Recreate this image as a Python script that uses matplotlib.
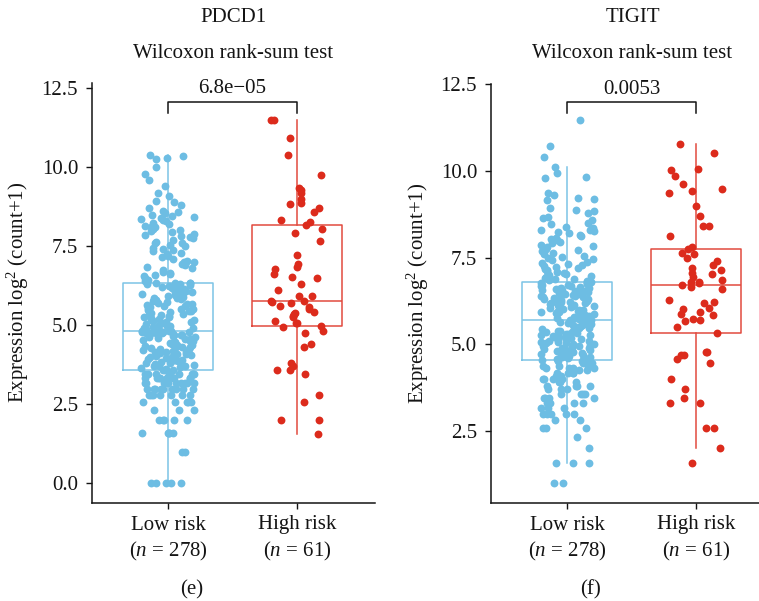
import matplotlib
matplotlib.use("Agg")
import matplotlib.pyplot as plt
import numpy as np

plt.rcParams['font.family'] = ['Liberation Serif', 'DejaVu Serif']
plt.rcParams['mathtext.fontset'] = 'custom'
plt.rcParams['mathtext.rm'] = 'Liberation Serif'
plt.rcParams['mathtext.it'] = 'Liberation Serif:italic'

# ---- data -------------------------------------------------------------
groups = ["Low risk", "High risk"]
group_sizes = [278, 61]
genes = ["PDCD1", "TIGIT"]
test_name = "Wilcoxon rank-sum test"
p_labels = ["6.8e\u221205", "0.0053"]
panel_tags = ["(e)", "(f)"]

# log2(count+1) expression, low-risk group
pdcd1_low = [
    0.00, 0.00, 0.00, 0.00, 0.00, 1.00, 1.00, 1.58, 1.58, 1.58, 1.58, 1.58,
    2.00, 2.00, 2.00, 2.00, 2.00, 2.32, 2.32, 2.32, 2.58, 2.58, 2.58, 2.58, 2.58,
    2.81, 2.81, 2.81, 2.81, 2.81, 2.81, 2.81,
    3.00, 3.00, 3.00, 3.00, 3.00, 3.00, 3.00, 3.00, 3.00,
    3.17, 3.17, 3.17, 3.17, 3.17, 3.17, 3.17, 3.17, 3.17,
    3.32, 3.32, 3.32, 3.32, 3.32, 3.32, 3.32, 3.32, 3.32, 3.32,
    3.46, 3.46, 3.46, 3.46, 3.46, 3.46, 3.46, 3.46, 3.46,
    3.58, 3.58, 3.60, 3.62, 3.65, 3.68, 3.70, 3.70, 3.72, 3.75,
    3.78, 3.81, 3.81, 3.83, 3.86, 3.89, 3.91, 3.91, 3.94, 3.97,
    4.00, 4.00, 4.02, 4.05, 4.07, 4.09, 4.09, 4.12, 4.15, 4.17,
    4.17, 4.20, 4.23, 4.25, 4.25, 4.28, 4.30, 4.32, 4.32, 4.35,
    4.38, 4.39, 4.42, 4.45, 4.46, 4.48, 4.50, 4.52, 4.55, 4.58,
    4.58, 4.60, 4.62, 4.64, 4.66, 4.68, 4.70, 4.70, 4.72, 4.74,
    4.75, 4.76, 4.77, 4.78, 4.79, 4.80, 4.80, 4.81, 4.81, 4.81,
    4.81, 4.83, 4.85, 4.88, 4.90, 4.92, 4.95, 4.97, 4.99, 5.02,
    5.04, 5.06, 5.09, 5.11, 5.13, 5.16, 5.18, 5.20, 5.23, 5.25,
    5.27, 5.30, 5.32, 5.34, 5.37, 5.39, 5.41, 5.44, 5.46, 5.48,
    5.51, 5.53, 5.55, 5.58, 5.60, 5.62, 5.65, 5.67, 5.69, 5.72,
    5.74, 5.76, 5.79, 5.81, 5.83, 5.86, 5.88, 5.90, 5.93, 5.95,
    5.97, 6.00, 6.02, 6.04, 6.07, 6.09, 6.11, 6.14, 6.16, 6.18,
    6.21, 6.23, 6.25, 6.28, 6.30, 6.32, 6.33, 6.33, 6.33,
    6.33,
    6.40, 6.45, 6.50, 6.55, 6.60, 6.62, 6.65, 6.70, 6.75, 6.80,
    6.85, 6.90, 6.95, 7.00, 7.02, 7.05, 7.10, 7.15, 7.20, 7.25,
    7.30, 7.35, 7.40, 7.42, 7.45, 7.50, 7.55, 7.60, 7.62, 7.65,
    7.70, 7.75, 7.80, 7.82, 7.85, 7.90, 7.95, 8.00, 8.02, 8.05,
    8.10, 8.12, 8.15, 8.20, 8.25, 8.30, 8.32, 8.35, 8.40, 8.42,
    8.45, 8.50, 8.55, 8.60, 8.62, 8.70, 8.80, 8.90, 8.92, 9.10,
    9.20, 9.40, 9.60, 9.80, 10.00, 10.25, 10.30, 10.35, 10.40,
]

pdcd1_high = [
    11.49, 11.49, 10.94, 10.38, 9.75, 9.34, 9.27, 9.18, 9.00, 8.86,
    8.85, 8.70, 8.60, 8.32, 8.26, 8.17, 8.04, 7.92, 7.66, 7.22,
    6.93, 6.85, 6.77, 6.62, 6.53, 6.49, 6.30, 6.11, 5.93, 5.92,
    5.76, 5.76, 5.73, 5.70, 5.61, 5.58, 5.51, 5.42, 5.38, 5.35,
    5.28, 5.26, 5.14, 5.07, 5.07, 4.97, 4.95, 4.82, 4.76, 4.42,
    4.31, 3.81, 3.70, 3.60, 3.58, 3.47, 2.79, 2.58, 1.99, 1.99,
    1.57,
]

tigit_low = [
    0.99, 0.99, 1.58, 1.58, 1.58, 2.00, 2.32, 2.58, 2.58, 2.58, 2.81, 2.81,
    3.00, 3.00, 3.00, 3.00, 3.00, 3.17, 3.17, 3.17, 3.32, 3.32, 3.32, 3.32,
    3.46, 3.46, 3.46, 3.46, 3.58, 3.58, 3.58, 3.58, 3.70, 3.70, 3.70,
    3.81, 3.81, 3.81, 3.81, 3.91, 3.91, 3.91, 4.00, 4.00, 4.00, 4.00,
    4.09, 4.09, 4.09, 4.17, 4.17, 4.17, 4.17, 4.25, 4.25, 4.25,
    4.32, 4.32, 4.32, 4.32, 4.39, 4.39, 4.39, 4.46, 4.46, 4.46,
    4.52, 4.52, 4.52,
    4.56, 4.56, 4.58, 4.60, 4.61, 4.63, 4.65, 4.66, 4.68, 4.70,
    4.71, 4.73, 4.75, 4.76, 4.78, 4.80, 4.81, 4.83, 4.85, 4.86,
    4.88, 4.90, 4.91, 4.93, 4.95, 4.96, 4.98, 5.00, 5.01, 5.03,
    5.05, 5.06, 5.08, 5.10, 5.11, 5.13, 5.15, 5.16, 5.18, 5.20,
    5.21, 5.23, 5.25, 5.26, 5.28, 5.30, 5.31, 5.33, 5.35, 5.36,
    5.38, 5.40, 5.41, 5.43, 5.45, 5.46, 5.48, 5.50, 5.51, 5.53,
    5.55, 5.56, 5.58, 5.60, 5.61, 5.63, 5.65, 5.67, 5.69, 5.70,
    5.70, 5.72, 5.73, 5.75, 5.76, 5.78, 5.80, 5.81, 5.83, 5.84,
    5.86, 5.88, 5.89, 5.91, 5.92, 5.94, 5.96, 5.97, 5.99, 6.00,
    6.02, 6.04, 6.05, 6.07, 6.08, 6.10, 6.12, 6.13, 6.15, 6.16,
    6.18, 6.20, 6.21, 6.23, 6.24, 6.26, 6.28, 6.29, 6.31, 6.32,
    6.34, 6.36, 6.37, 6.39, 6.40, 6.42, 6.44, 6.45, 6.47, 6.48,
    6.50, 6.52, 6.53, 6.55, 6.56, 6.58, 6.60, 6.61, 6.63, 6.64,
    6.66, 6.68, 6.69, 6.71, 6.72, 6.74, 6.76, 6.78, 6.80,
    6.80, 11.48, 10.72, 10.40, 10.12, 9.94, 9.83, 9.81, 9.38, 9.30,
    9.22, 9.18, 9.16, 8.93, 8.87, 8.85, 8.80, 8.68, 8.65, 8.58,
    8.49, 8.47, 8.39, 8.36, 8.31,
    6.82, 6.85, 6.88, 6.90, 6.92, 6.95, 6.98, 7.00, 7.03, 7.06,
    7.09, 7.12, 7.15, 7.18, 7.21, 7.24, 7.27, 7.30, 7.33, 7.36,
    7.39, 7.42, 7.45, 7.48, 7.52, 7.56, 7.60, 7.64, 7.68, 7.72,
    7.76, 7.80, 7.84, 7.88, 7.92, 7.96, 8.00, 8.04, 8.08, 8.12,
    8.16, 8.20, 8.24, 8.27, 8.29,
]

tigit_high = [
    10.77, 10.53, 10.07, 10.04, 9.86, 9.64, 9.47, 9.42, 9.36, 8.98,
    8.70, 8.42, 8.42, 8.12, 7.81, 7.76, 7.65, 7.61, 7.50, 7.41,
    7.28, 7.21, 7.15, 7.06, 7.04, 6.95, 6.85, 6.80, 6.79, 6.76,
    6.70, 6.66, 6.61, 6.28, 6.22, 6.20, 6.04, 6.01, 5.93, 5.89,
    5.84, 5.72, 5.70, 5.68, 5.51, 5.32, 4.79, 4.79, 4.69, 4.69,
    4.57, 4.45, 3.99, 3.70, 3.45, 3.32, 3.32, 2.59, 2.59, 2.00,
    1.58,
]

panels = [
    dict(gene=genes[0], data=[pdcd1_low, pdcd1_high], p=p_labels[0],
         tag=panel_tags[0], yticks=[0.0, 2.5, 5.0, 7.5, 10.0, 12.5],
         ylim=(-0.614, 12.68), bracket=(12.08, 11.73)),
    dict(gene=genes[1], data=[tigit_low, tigit_high], p=p_labels[1],
         tag=panel_tags[1], yticks=[2.5, 5.0, 7.5, 10.0, 12.5],
         ylim=(0.434, 12.51), bracket=(11.99, 11.68)),
]

for pnl in panels:
    for arr, n in zip(pnl["data"], group_sizes):
        assert len(arr) == n, (pnl["gene"], len(arr), n)

# ---- styling ------------------------------------------------------------
W, H = 759, 601
blue = "#6DBDE3"
red = "#DC2B1C"
box_colors = ["#7CC4E6", "#E24A3E"]
point_colors = [blue, red]
ink = "#141414"
fs = 15

fig = plt.figure(figsize=(W / 100, H / 100), dpi=100)

axes_px = [(92.0, 82.7, 283.0, 420.0), (491.0, 84.0, 283.0, 418.7)]
ylabel_x = [18, 418]


def jitter(n, salt, width=0.21):
    """Deterministic, well-mixed horizontal offsets in [-width, width]."""
    k = np.arange(n, dtype=float)
    h = np.sin(k * 12.9898 + salt * 78.233) * 43758.5453
    u = h - np.floor(h)
    return width * (2.0 * u - 1.0)


for pi, (pnl, (x0, ytop, w, h), ylx) in enumerate(zip(panels, axes_px,
                                                       ylabel_x)):
    ax = fig.add_axes([x0 / W, 1 - (ytop + h) / H, w / W, h / H])
    positions = [0, 1]

    bp = ax.boxplot(pnl["data"], positions=positions, widths=0.7,
                    showfliers=False, showcaps=False, whis=1.5,
                    patch_artist=False, zorder=2)
    for i, col in enumerate(box_colors):
        for art in (bp["boxes"][i], bp["medians"][i],
                    bp["whiskers"][2 * i], bp["whiskers"][2 * i + 1]):
            art.set_color(col)
            art.set_linewidth(1.1)

    for i, arr in enumerate(pnl["data"]):
        vals = np.asarray(arr)
        xs = positions[i] + jitter(len(vals), salt=1 + 2 * pi + i)
        ax.scatter(xs, vals, s=32, color=point_colors[i], linewidths=0,
                   zorder=3)

    ax.set_xlim(-0.589, 1.605)
    ax.set_ylim(*pnl["ylim"])
    ax.set_yticks(pnl["yticks"])
    ax.set_yticklabels([f"{t:.1f}" for t in pnl["yticks"]], fontsize=fs,
                       color=ink)
    ax.set_xticks(positions)
    ax.set_xticklabels([])
    ax.tick_params(axis="both", length=4, width=1.0, color=ink, pad=6)
    for side in ("top", "right"):
        ax.spines[side].set_visible(False)
    for side in ("left", "bottom"):
        ax.spines[side].set_linewidth(1.1)
        ax.spines[side].set_color(ink)

    # significance bracket
    yb, ye = pnl["bracket"]
    ax.plot([0, 0, 1, 1], [ye, yb, yb, ye], color=ink, lw=1.1,
            clip_on=False, zorder=4)
    ax.text(0.5, yb + 0.1, pnl["p"], ha="center", va="bottom",
            fontsize=fs, color=ink)

    # group labels under the axis
    tr = ax.get_xaxis_transform()
    for xpos, g, n in zip(positions, groups, group_sizes):
        ax.text(xpos, -(525 - (ytop + h)) / h, g, transform=tr,
                ha="center", va="center", fontsize=fs, color=ink)
        ax.text(xpos, -(551 - (ytop + h)) / h,
                "(" + r"$\it{n}$" + f" = {n})", transform=tr,
                ha="center", va="center", fontsize=fs, color=ink)

    xc = (x0 + w / 2) / W
    fig.text(xc, 1 - 18 / H, pnl["gene"], ha="center", va="center",
             fontsize=fs, color=ink)
    fig.text(xc, 1 - 54 / H, test_name, ha="center", va="center",
             fontsize=fs, color=ink)
    fig.text(xc - 42 / W, 1 - 590 / H, pnl["tag"], ha="center", va="center",
             fontsize=fs, color=ink)
    fig.text(ylx / W, 1 - (ytop + h / 2) / H,
             r"Expression log$^2$ (count+1)", rotation=90,
             ha="center", va="center", fontsize=fs, color=ink)

fig.savefig("out.png", dpi=100)
